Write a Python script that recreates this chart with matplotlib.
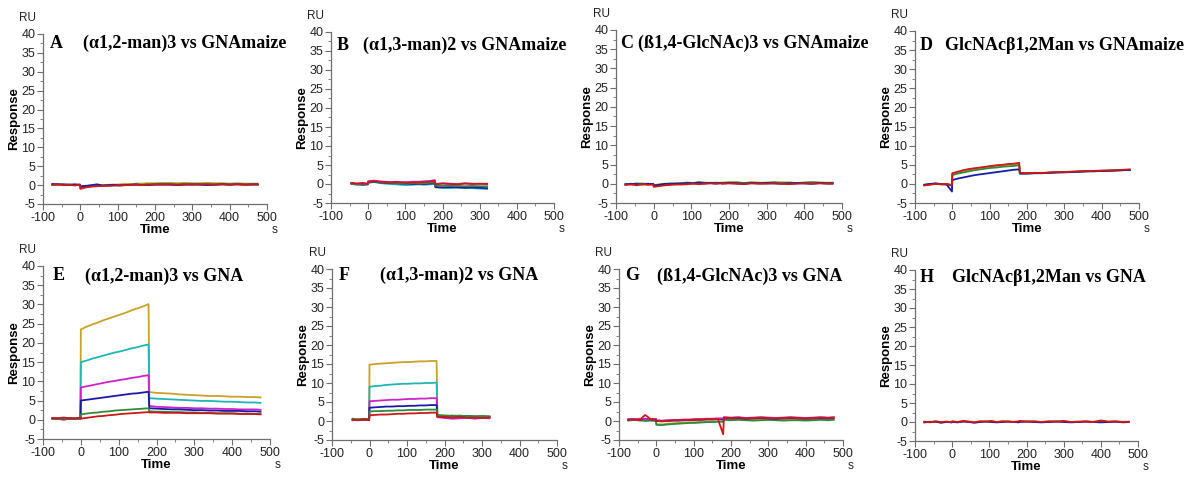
import matplotlib
matplotlib.use("Agg")
import matplotlib.pyplot as plt
from matplotlib.ticker import MultipleLocator

plt.rcParams["axes.unicode_minus"] = False

# time grids (s); duplicated points around 0 and 180 s give the injection steps
T_long = [-75, -60, -45, -30, -15, -1,
          0, 15, 30, 45, 60, 75, 90, 105, 120, 135, 150, 165, 179,
          181, 200, 220, 240, 260, 280, 300, 320, 340, 360, 380, 400, 420, 440, 460, 475]
T_short = [-45, -30, -15, -1,
           0, 15, 30, 45, 60, 75, 90, 105, 120, 135, 150, 165, 179,
           181, 200, 220, 240, 260, 280, 300, 320]

# A: (a1,2-man)3 vs GNAmaize
A_gold = [0.2, 0.3, 0.1, 0.2, 0.0, 0.2] + [-0.5, -0.3, -0.2, -0.1, 0.0, 0.1, 0.1, 0.2, 0.3, 0.3, 0.4, 0.4, 0.5] + [0.5, 0.5, 0.6, 0.6, 0.5, 0.6, 0.5, 0.5, 0.6, 0.5, 0.5, 0.4, 0.5, 0.4, 0.4, 0.4]
A_green = [0.0, 0.1, 0.1, 0.0, 0.1, 0.0] + [-0.6, -0.4, -0.3, -0.2, -0.2, -0.1, -0.1, 0.0, 0.0, 0.1, 0.1, 0.1, 0.2] + [0.2, 0.3, 0.2, 0.3, 0.2, 0.3, 0.2, 0.3, 0.3, 0.2, 0.3, 0.2, 0.3, 0.2, 0.3, 0.2]
A_blue = [0.3, 0.2, 0.2, 0.1, 0.2, 0.1] + [-0.3, -0.2, 0.0, 0.2, -0.1, 0.0, 0.1, -0.1, 0.0, 0.1, 0.2, 0.0, 0.1] + [0.0, 0.1, 0.2, 0.1, 0.0, 0.1, 0.2, 0.1, 0.0, 0.1, 0.2, 0.1, 0.2, 0.1, 0.1, 0.2]
A_red = [0.1, 0.2, 0.0, 0.1, -0.1, 0.1] + [-1.0, -0.6, -0.4, -0.3, -0.2, -0.2, -0.1, -0.1, 0.0, 0.0, 0.1, 0.0, 0.1] + [0.1, 0.2, 0.1, 0.2, 0.1, 0.2, 0.1, 0.2, 0.2, 0.1, 0.2, 0.1, 0.2, 0.1, 0.2, 0.1]

# B: (a1,3-man)2 vs GNAmaize
B_cyan = [0.1, -0.1, -0.2, 0.0] + [0.3, 0.5, 0.3, 0.1, 0.0, -0.1, -0.2, -0.3, -0.2, -0.1, -0.2, -0.1, 0.0] + [-0.9, -1.0, -1.1, -0.9, -1.0, -1.1, -1.2, -1.3]
B_magenta = [0.2, 0.1, 0.3, 0.1] + [0.7, 0.9, 0.7, 0.6, 0.5, 0.6, 0.5, 0.5, 0.6, 0.6, 0.7, 0.8, 1.0] + [0.0, 0.2, 0.1, 0.0, 0.2, 0.1, 0.0, 0.1]
B_blue = [0.2, 0.0, -0.2, -0.1] + [0.4, 0.6, 0.4, 0.3, 0.2, 0.2, 0.1, 0.1, 0.0, 0.0, 0.0, 0.1, 0.2] + [-0.8, -0.9, -0.8, -0.9, -1.0, -0.9, -1.0, -1.1]
B_green = [0.0, -0.2, 0.0, -0.1] + [0.5, 0.7, 0.5, 0.4, 0.3, 0.3, 0.2, 0.2, 0.2, 0.1, 0.2, 0.3, 0.4] + [-0.4, -0.5, -0.4, -0.5, -0.6, -0.5, -0.6, -0.6]
B_red = [0.3, 0.1, 0.2, 0.0] + [0.6, 0.8, 0.6, 0.5, 0.4, 0.5, 0.4, 0.3, 0.4, 0.4, 0.5, 0.6, 0.9] + [-0.1, 0.1, 0.0, -0.1, 0.1, 0.0, 0.1, 0.0]

# C: (b1,4-GlcNAc)3 vs GNAmaize
C_gold = [-0.1, 0.0, -0.2, 0.1, 0.0, -0.1] + [-0.3, -0.2, 0.0, 0.1, 0.0, 0.2, 0.1, 0.2, 0.3, 0.2, 0.3, 0.2, 0.3] + [0.3, 0.4, 0.3, 0.2, 0.4, 0.3, 0.2, 0.3, 0.4, 0.3, 0.2, 0.3, 0.4, 0.3, 0.3, 0.2]
C_green = [0.0, -0.1, 0.1, 0.0, -0.1, 0.0] + [-0.4, -0.2, -0.1, 0.1, 0.0, 0.2, 0.3, 0.2, 0.4, 0.3, 0.2, 0.3, 0.2] + [0.2, 0.3, 0.4, 0.2, 0.3, 0.2, 0.3, 0.4, 0.2, 0.3, 0.2, 0.3, 0.4, 0.3, 0.2, 0.3]
C_blue = [-0.2, 0.0, -0.1, -0.2, 0.0, -0.1] + [-0.5, -0.3, 0.0, -0.1, 0.1, 0.0, 0.2, 0.1, 0.3, 0.1, 0.2, 0.1, 0.2] + [0.1, 0.2, 0.1, 0.0, 0.2, 0.1, 0.2, 0.1, 0.0, 0.1, 0.2, 0.1, 0.0, 0.2, 0.1, 0.1]
C_red = [-0.3, -0.2, -0.4, -0.1, -0.3, -0.2] + [-0.8, -0.6, -0.4, -0.3, -0.2, -0.2, -0.1, 0.0, -0.1, 0.0, 0.1, 0.0, 0.1] + [0.0, 0.1, 0.0, -0.1, 0.1, 0.0, 0.0, 0.1, 0.0, -0.1, 0.0, 0.1, 0.0, 0.1, 0.0, 0.0]

# D: GlcNAcb1,2Man vs GNAmaize
D_gold = [-0.4, -0.2, 0.1, -0.1, 0.0, -0.4] + [2.6, 3.0, 3.4, 3.7, 4.0, 4.2, 4.4, 4.6, 4.7, 4.9, 5.0, 5.1, 5.3] + [2.8, 2.8, 2.9, 2.9, 3.0, 3.0, 3.1, 3.2, 3.2, 3.3, 3.4, 3.4, 3.5, 3.6, 3.6, 3.7]
D_green = [-0.3, -0.1, 0.1, 0.0, -0.1, -0.5] + [2.3, 2.7, 3.0, 3.3, 3.6, 3.8, 4.0, 4.2, 4.3, 4.5, 4.6, 4.7, 4.9] + [2.7, 2.7, 2.8, 2.8, 2.9, 3.0, 3.1, 3.1, 3.2, 3.3, 3.3, 3.4, 3.5, 3.5, 3.6, 3.6]
D_blue = [-0.2, 0.0, 0.1, -0.1, -0.2, -2.0] + [1.0, 1.4, 1.7, 2.0, 2.3, 2.5, 2.7, 2.9, 3.1, 3.3, 3.5, 3.7, 3.8] + [2.7, 2.7, 2.8, 2.8, 2.9, 3.0, 3.0, 3.1, 3.2, 3.3, 3.3, 3.4, 3.4, 3.5, 3.6, 3.6]
D_red = [-0.4, -0.2, 0.0, -0.1, 0.0, -0.3] + [2.8, 3.2, 3.6, 3.9, 4.1, 4.3, 4.5, 4.7, 4.9, 5.0, 5.2, 5.3, 5.5] + [2.9, 2.8, 2.9, 2.8, 3.0, 3.1, 3.1, 3.2, 3.3, 3.3, 3.4, 3.5, 3.5, 3.6, 3.7, 3.8]

# E: (a1,2-man)3 vs GNA
E_gold = [0.3, 0.4, 0.2, 0.4, 0.3, 0.5] + [23.5, 24.2, 24.8, 25.3, 25.9, 26.4, 26.9, 27.4, 27.9, 28.5, 29.0, 29.5, 30.1] + [7.2, 7.0, 6.9, 6.8, 6.6, 6.5, 6.4, 6.3, 6.2, 6.2, 6.1, 6.0, 6.0, 5.9, 5.9, 5.8]
E_cyan = [0.2, 0.3, 0.1, 0.3, 0.2, 0.4] + [15.0, 15.4, 15.9, 16.3, 16.7, 17.1, 17.5, 17.8, 18.2, 18.6, 18.9, 19.3, 19.6] + [5.6, 5.5, 5.4, 5.3, 5.2, 5.1, 5.0, 4.9, 4.9, 4.8, 4.7, 4.7, 4.6, 4.5, 4.5, 4.4]
E_magenta = [0.2, 0.2, 0.0, 0.3, 0.2, 0.3] + [8.4, 8.7, 9.0, 9.3, 9.6, 9.9, 10.1, 10.4, 10.6, 10.9, 11.1, 11.4, 11.6] + [3.6, 3.4, 3.3, 3.2, 3.1, 3.1, 3.0, 3.0, 2.9, 2.9, 2.8, 2.8, 2.7, 2.7, 2.7, 2.6]
E_blue = [0.4, 0.3, 0.3, 0.4, 0.3, 0.5] + [5.0, 5.2, 5.4, 5.6, 5.8, 6.0, 6.2, 6.4, 6.6, 6.8, 6.9, 7.1, 7.3] + [3.0, 2.9, 2.8, 2.7, 2.7, 2.6, 2.5, 2.5, 2.4, 2.4, 2.3, 2.3, 2.3, 2.2, 2.2, 2.1]
E_green = [0.3, 0.2, 0.3, 0.2, 0.3, 0.2] + [1.4, 1.6, 1.8, 1.9, 2.1, 2.2, 2.4, 2.5, 2.6, 2.7, 2.8, 2.9, 3.0] + [2.2, 2.1, 2.1, 2.0, 2.0, 1.9, 1.9, 1.8, 1.8, 1.7, 1.7, 1.7, 1.6, 1.6, 1.5, 1.5]
E_red = [0.5, 0.4, 0.6, 0.3, 0.4, 0.5] + [0.3, 0.5, 0.7, 0.9, 1.0, 1.2, 1.3, 1.5, 1.6, 1.7, 1.8, 1.9, 2.0] + [1.9, 1.9, 1.8, 1.8, 1.8, 1.7, 1.7, 1.7, 1.7, 1.6, 1.6, 1.6, 1.5, 1.5, 1.5, 1.4]

# F: (a1,3-man)2 vs GNA
F_gold = [0.5, 0.3, 0.6, 0.4] + [14.8, 15.0, 15.1, 15.2, 15.3, 15.4, 15.5, 15.5, 15.6, 15.7, 15.7, 15.8, 15.8] + [1.6, 1.5, 1.4, 1.4, 1.3, 1.3, 1.2, 1.2]
F_cyan = [0.3, 0.5, 0.2, 0.4] + [9.0, 9.2, 9.3, 9.5, 9.6, 9.7, 9.8, 9.8, 9.9, 9.9, 10.0, 10.0, 10.1] + [1.3, 1.2, 1.3, 1.1, 1.2, 1.1, 1.1, 1.0]
F_magenta = [0.2, 0.4, 0.3, 0.5] + [5.2, 5.3, 5.4, 5.5, 5.6, 5.6, 5.7, 5.8, 5.8, 5.9, 5.9, 6.0, 6.0] + [1.0, 0.8, 0.6, 0.7, 0.9, 0.6, 0.8, 0.7]
F_blue = [0.4, 0.2, 0.5, 0.3] + [3.5, 3.6, 3.7, 3.8, 3.8, 3.9, 3.9, 4.0, 4.0, 4.1, 4.1, 4.2, 4.2] + [1.2, 1.1, 1.4, 1.2, 1.3, 1.1, 1.2, 1.1]
F_green = [0.6, 0.4, 0.5, 0.3] + [2.5, 2.6, 2.6, 2.7, 2.7, 2.8, 2.8, 2.9, 2.9, 2.9, 3.0, 3.0, 3.0] + [1.5, 1.4, 1.3, 1.4, 1.3, 1.2, 1.3, 1.2]
F_red = [0.3, 0.2, 0.4, 0.2] + [1.5, 1.6, 1.7, 1.7, 1.8, 1.9, 1.9, 2.0, 2.0, 2.1, 2.1, 2.2, 2.2] + [1.1, 1.0, 0.9, 1.0, 0.8, 0.9, 0.8, 0.9]

# G: (b1,4-GlcNAc)3 vs GNA
G_gold = [0.2, 0.3, 0.1, 0.4, 0.2, 0.1] + [-0.8, -0.9, -0.7, -0.6, -0.5, -0.4, -0.4, -0.3, -0.2, -0.2, -0.1, -0.1, 0.0] + [0.5, 0.4, 0.5, 0.4, 0.5, 0.4, 0.5, 0.4, 0.4, 0.5, 0.4, 0.5, 0.4, 0.5, 0.5, 0.4]
G_green = [0.1, 0.3, 0.2, 0.0, 0.1, 0.0] + [-1.0, -1.1, -0.9, -0.8, -0.7, -0.6, -0.5, -0.5, -0.4, -0.3, -0.3, -0.2, -0.2] + [0.3, 0.2, 0.3, 0.2, 0.1, 0.2, 0.3, 0.2, 0.1, 0.2, 0.2, 0.1, 0.2, 0.3, 0.2, 0.3]
G_blue = [0.4, 0.5, 0.3, 0.6, 0.4, 0.5] + [0.0, -0.1, 0.0, 0.1, 0.1, 0.2, 0.2, 0.3, 0.3, 0.4, 0.4, 0.5, 0.5] + [0.8, 0.7, 0.8, 0.6, 0.7, 0.8, 0.7, 0.6, 0.7, 0.8, 0.7, 0.6, 0.7, 0.8, 0.7, 0.8]
G_magenta = [0.5, 0.4, 0.6, 0.5, 0.4, 0.6] + [0.2, 0.1, 0.2, 0.3, 0.3, 0.4, 0.4, 0.5, 0.5, 0.6, 0.6, 0.7, 0.7] + [1.0, 0.9, 1.0, 0.8, 0.9, 1.0, 0.9, 0.8, 0.9, 1.0, 0.9, 0.8, 0.9, 1.0, 0.9, 1.0]
G_red = [0.3, 0.4, 0.2, 1.6, 0.5, 0.3] + [0.1, 0.0, 0.1, 0.2, 0.2, 0.3, 0.3, 0.4, 0.4, 0.5, 0.5, 0.5, -3.5] + [0.9, 0.8, 0.9, 0.7, 0.8, 0.9, 0.8, 0.7, 0.8, 0.9, 0.8, 0.7, 0.8, 0.9, 0.8, 0.9]

# H: GlcNAcb1,2Man vs GNA
H_gold = [0.0, 0.1, 0.0, -0.1, 0.1, 0.0] + [0.1, 0.0, 0.2, 0.1, 0.0, 0.1, 0.2, 0.1, 0.0, 0.1, 0.2, 0.1, 0.0] + [0.1, 0.2, 0.1, 0.0, 0.1, 0.2, 0.1, 0.0, 0.1, 0.0, 0.1, 0.2, 0.1, 0.0, 0.1, 0.0]
H_blue = [-0.1, 0.0, 0.1, -0.2, 0.0, -0.1] + [0.0, -0.1, 0.1, 0.0, -0.2, 0.0, 0.1, 0.0, -0.1, 0.0, 0.1, 0.0, -0.1] + [0.0, 0.1, 0.0, -0.1, 0.0, 0.1, 0.0, -0.1, 0.0, 0.1, 0.0, -0.1, 0.0, 0.1, -0.1, 0.0]
H_red = [0.1, -0.1, 0.2, 0.0, 0.1, -0.1] + [0.2, 0.0, 0.3, 0.1, -0.1, 0.2, 0.1, 0.3, 0.0, 0.2, 0.1, 0.0, 0.2] + [0.3, 0.1, 0.2, 0.0, 0.2, 0.1, 0.3, 0.0, 0.1, 0.2, 0.0, 0.4, 0.1, 0.2, 0.0, 0.1]

letters = ["A", "B", "C", "D", "E", "F", "G", "H"]
titles = ["(\u03b11,2-man)3 vs GNAmaize", "(\u03b11,3-man)2 vs GNAmaize",
          "(\u00df1,4-GlcNAc)3 vs GNAmaize", "GlcNAc\u03b21,2Man vs GNAmaize",
          "(\u03b11,2-man)3 vs GNA", "(\u03b11,3-man)2 vs GNA",
          "(\u00df1,4-GlcNAc)3 vs GNA", "GlcNAc\u03b21,2Man vs GNA"]

colors = {"gold": "#c9a227", "cyan": "#1fb5b5", "magenta": "#cc22cc",
          "blue": "#1a1aa8", "green": "#2e8b3a", "red": "#cc1818"}

panels = [
    (T_long, [("gold", A_gold), ("green", A_green), ("blue", A_blue), ("red", A_red)]),
    (T_short, [("cyan", B_cyan), ("blue", B_blue), ("green", B_green), ("magenta", B_magenta), ("red", B_red)]),
    (T_long, [("gold", C_gold), ("green", C_green), ("blue", C_blue), ("red", C_red)]),
    (T_long, [("gold", D_gold), ("green", D_green), ("blue", D_blue), ("red", D_red)]),
    (T_long, [("gold", E_gold), ("cyan", E_cyan), ("magenta", E_magenta), ("blue", E_blue), ("green", E_green), ("red", E_red)]),
    (T_short, [("gold", F_gold), ("cyan", F_cyan), ("magenta", F_magenta), ("blue", F_blue), ("green", F_green), ("red", F_red)]),
    (T_long, [("gold", G_gold), ("green", G_green), ("blue", G_blue), ("magenta", G_magenta), ("red", G_red)]),
    (T_long, [("gold", H_gold), ("blue", H_blue), ("red", H_red)]),
]

# axes boxes in pixels: left, right, top, bottom; then letter x, title x, title y
W, H = 1200, 479
boxes = [(43, 267, 34, 204), (331, 554, 32, 203), (616, 842, 30, 203), (915, 1139, 31, 203),
         (43, 270, 266, 439), (332, 557, 269, 440), (619, 843, 269, 440), (915, 1138, 270, 441)]
label_pos = [(50, 83, 43), (337, 363, 45), (620, 638, 43), (920, 945, 45),
             (53, 85, 276), (339, 380, 275), (625, 657, 276), (920, 952, 277)]

fig = plt.figure(figsize=(12, 4.79), dpi=100)
sans = "Liberation Sans"
serif = "Liberation Serif"
spine_col = "#6e6e6e"

for i, (t, curves) in enumerate(panels):
    l, r, tp, bt = boxes[i]
    ax = fig.add_axes([l / W, 1 - bt / H, (r - l) / W, (bt - tp) / H])
    for name, vals in curves:
        ax.plot(t, vals, color=colors[name], lw=1.3)
    ax.set_xlim(-100, 500)
    ax.set_ylim(-5, 40)
    ax.xaxis.set_major_locator(MultipleLocator(100))
    ax.xaxis.set_minor_locator(MultipleLocator(50))
    ax.yaxis.set_major_locator(MultipleLocator(5))
    ax.yaxis.set_minor_locator(MultipleLocator(2.5))
    for s in ["top", "right"]:
        ax.spines[s].set_visible(False)
    for s in ["left", "bottom"]:
        ax.spines[s].set_color(spine_col)
        ax.spines[s].set_linewidth(0.9)
    ax.tick_params(which="major", length=4, width=0.8, color=spine_col, pad=1.5,
                   labelsize=9, labelcolor="#222222")
    ax.tick_params(which="minor", length=2, width=0.6, color=spine_col)
    for lab in ax.get_xticklabels() + ax.get_yticklabels():
        lab.set_fontfamily(sans)
    ax.set_xlabel("Time", fontsize=9.5, fontweight="bold", family=sans, labelpad=0)
    ax.set_ylabel("Response", fontsize=9.5, fontweight="bold", family=sans, labelpad=1)
    ax.patch.set_alpha(0)

    lx, tx, ty = label_pos[i]
    fig.text(lx / W, 1 - ty / H, letters[i], fontsize=13, fontweight="bold",
             family=serif, va="center", ha="left")
    fig.text(tx / W, 1 - ty / H, titles[i], fontsize=13, fontweight="bold",
             family=serif, va="center", ha="left")
    fig.text((l - 15) / W, 1 - (tp - 16) / H, "RU", fontsize=8.5, family=sans,
             color="#222222", ha="center", va="center")
    fig.text((r + 8) / W, 1 - (bt + 26) / H, "s", fontsize=8.5, family=sans,
             color="#222222", ha="center", va="center")

fig.savefig("out.png", dpi=100, facecolor="white")
